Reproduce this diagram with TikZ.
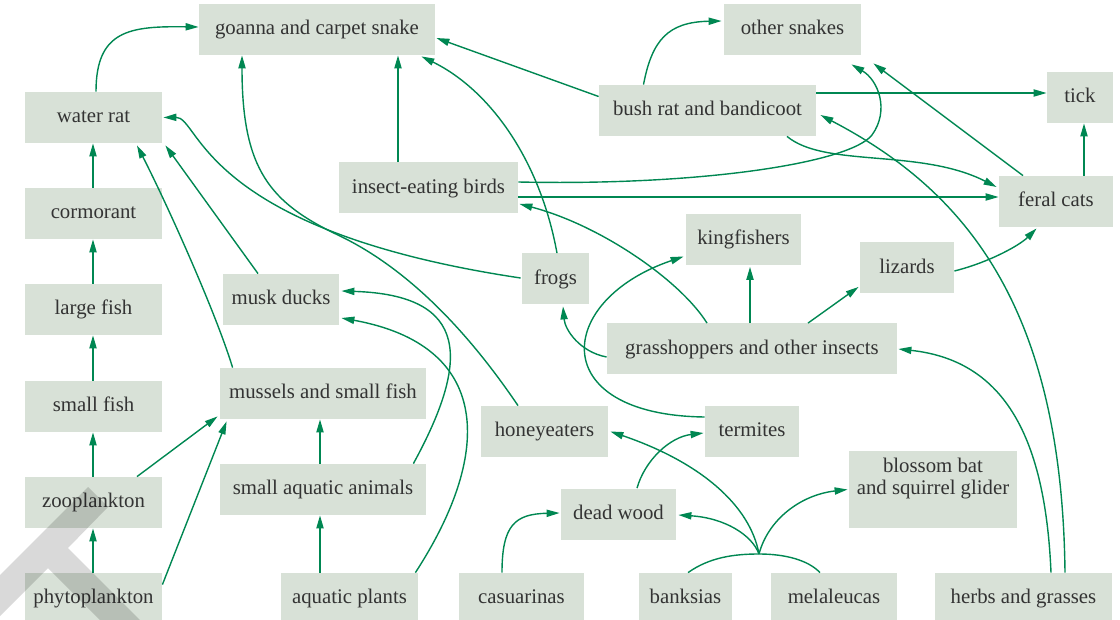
\documentclass[tikz,border=0pt]{standalone}
\usepackage{fontspec}
\setmainfont{Liberation Serif}
\usetikzlibrary{arrows.meta}
\definecolor{boxfill}{HTML}{D8E1D7}
\definecolor{linkgreen}{HTML}{008752}
\definecolor{labelgrey}{HTML}{333333}
\tikzset{
  org/.style  = {fill=boxfill, rectangle, inner sep=0pt, minimum height=25.5pt,
                 text=labelgrey, font=\fontsize{10.4}{11}\selectfont,
                 text height=7.3pt, text depth=2pt, align=center},
  ln/.style   = {draw=linkgreen, line width=0.7pt},
  ar/.style   = {ln, -{Triangle[length=6.5pt, width=3.6pt]}, linkgreen},
  logo/.style = {fill=black, opacity=0.15},
}
\begin{document}
\begin{tikzpicture}[x=0.5pt, y=-0.5pt]
  \useasboundingbox (0,0) rectangle (1120,620);
  % nodes, top to bottom
  \node[org, minimum width=118pt]   (goanna)        at (317, 29.5)    {goanna and carpet snake};
  \node[org, minimum width=68.5pt]  (othersnakes)   at (792.5, 29.5)  {other snakes};
  \node[org, minimum width=68.5pt]  (waterrat)      at (93.5, 117.5)  {water rat};
  \node[org, minimum width=108.5pt] (bushrat)       at (707.5, 110.5) {bush rat and bandicoot};
  \node[org, minimum width=33pt]    (tick)          at (1080, 97.5)   {tick};
  \node[org, minimum width=89.5pt]  (birds)         at (428.5, 188)   {insect-eating birds};
  \node[org, minimum width=68.5pt]  (cormorant)     at (93.5, 213.5)  {cormorant};
  \node[org, minimum width=57pt]    (feralcats)     at (1056, 201.5)  {feral cats};
  \node[org, minimum width=57.5pt]  (kingfishers)   at (743.5, 239.5) {kingfishers};
  \node[org, minimum width=33.5pt]  (frogs)         at (555.5, 279)   {frogs};
  \node[org, minimum width=47pt]    (lizards)       at (907, 268)     {lizards};
  \node[org, minimum width=58pt]    (muskducks)     at (281, 299.5)   {musk ducks};
  \node[org, minimum width=68.5pt]  (largefish)     at (93.5, 309.5)  {large fish};
  \node[org, minimum width=145pt]   (grasshoppers)  at (752, 349)     {grasshoppers and other insects};
  \node[org, minimum width=103pt]   (mussels)       at (323, 393.5)   {mussels and small fish};
  \node[org, minimum width=68.5pt]  (smallfish)     at (93.5, 406.5)  {small fish};
  \node[org, minimum width=63.5pt]  (honeyeaters)   at (544.5, 431.5) {honeyeaters};
  \node[org, minimum width=47pt]    (termites)      at (752, 431.5)   {termites};
  \node[org, minimum width=84pt, minimum height=38.5pt]
                                    (blossom)       at (933, 489.5)   {blossom bat\\and squirrel glider};
  \node[org, minimum width=103pt]   (smallaquatic)  at (323, 489.5)   {small aquatic animals};
  \node[org, minimum width=68.5pt]  (zooplankton)   at (93.5, 502.5)  {zooplankton};
  \node[org, minimum width=57.5pt]  (deadwood)      at (618.5, 514)   {dead wood};
  \node[org, minimum width=68.5pt]  (phytoplankton) at (93.5, 598.5)  {phytoplankton};
  \node[org, minimum width=68.5pt]  (aquaticplants) at (349.5, 598.5) {aquatic plants};
  \node[org, minimum width=62.5pt]  (casuarinas)    at (521.5, 598.5) {casuarinas};
  \node[org, minimum width=46.5pt]  (banksias)      at (685.5, 598.5) {banksias};
  \node[org, minimum width=63pt]    (melaleucas)    at (834, 598.5)   {melaleucas};
  \node[org, minimum width=88.5pt]  (herbs)         at (1023.5, 598.5){herbs and grasses};
  % water chain on the left
  \foreach \a/\b in {phytoplankton/zooplankton, zooplankton/smallfish, smallfish/largefish,
                     largefish/cormorant, cormorant/waterrat}
    \draw[ar] ([shift={(-0.5,0)}]\a.north) -- ([shift={(-0.5,0)}]\b.south);
  \draw[ar] ([shift={(2.5,0)}]waterrat.north) .. controls (96,30) and (130,26) .. ([shift={(0,-2.5)}]goanna.west);
  \draw[ar] ([shift={(-1,-1)}]frogs.west) .. controls (200,230) and (200,117) .. ([shift={(1,0)}]waterrat.east);
  \draw[ar] ([shift={(-23,0)}]muskducks.north) -- ([shift={(3,2)}]waterrat.south east);
  \draw[ar] ([shift={(13,0)}]mussels.north west) .. controls (215,310) and (165,200) .. ([shift={(43.5,2)}]waterrat.south);
  \draw[ar] ([shift={(43.5,0)}]zooplankton.north) -- ([shift={(-2,-3)}]mussels.south west);
  \draw[ar] ([shift={(0,12)}]phytoplankton.north east) -- ([shift={(7,2)}]mussels.south west);
  \draw[ar] ([shift={(-3,0)}]smallaquatic.north) -- ([shift={(-3,0)}]mussels.south);
  \draw[ar] ([shift={(-29.5,0)}]aquaticplants.north) -- ([shift={(-3,0)}]smallaquatic.south);
  \draw[ar] ([shift={(-13,0)}]smallaquatic.north east) .. controls (470,360) and (470,295) .. ([shift={(2,-8.5)}]muskducks.east);
  \draw[ar] ([shift={(-3,0)}]aquaticplants.north east) .. controls (495,450) and (490,345) .. ([shift={(2,18.5)}]muskducks.east);
  % into goanna and carpet snake
  \draw[ar] ([shift={(0,-14)}]bushrat.west) -- ([shift={(1,8.5)}]goanna.east);
  \draw[ar] ([shift={(-30.5,0)}]birds.north) -- ([shift={(81,0)}]goanna.south);
  \draw[ar] ([shift={(1.5,0)}]frogs.north) .. controls (540,160) and (490,90) .. ([shift={(-14,1)}]goanna.south east);
  \draw[ar] ([shift={(-26.5,0)}]honeyeaters.north) .. controls (460,320) and (400,265) .. (340,236)
            .. controls (270,203) and (242,170) .. ([shift={(-75,0)}]goanna.south);
  % other snakes, tick, feral cats
  \draw[ar] ([shift={(-64,0)}]bushrat.north) .. controls (652,40) and (668,22) .. ([shift={(-2,-8.5)}]othersnakes.west);
  \draw[ar] ([shift={(0,-6)}]birds.east) .. controls (700,186) and (850,163) .. (872,135)
            .. controls (890,110) and (878,80) .. ([shift={(-10,9)}]othersnakes.south east);
  \draw[ar] ([shift={(-33,0)}]feralcats.north) -- ([shift={(12,8)}]othersnakes.south east);
  \draw[ar] ([shift={(0,-17.5)}]bushrat.east) -- ([shift={(0,-4.5)}]tick.west);
  \draw[ar] ([shift={(28,0)}]feralcats.north) -- ([shift={(4,0)}]tick.south);
  \draw[ar] ([shift={(79.5,0)}]bushrat.south) .. controls (825,168) and (920,148) .. ([shift={(-2,-14.5)}]feralcats.west);
  \draw[ar] ([shift={(0,9)}]birds.east) -- ([shift={(0,-4.5)}]feralcats.west);
  \draw[ar] ([shift={(41.5,0)}]herbs.north) .. controls (1062,300) and (960,188) .. ([shift={(4,4.5)}]bushrat.east);
  \draw[ar] ([shift={(0,3)}]lizards.east) .. controls (990,262) and (1020,245) .. ([shift={(38,1)}]feralcats.south west);
  % insects
  \draw[ar] ([shift={(-45,0)}]grasshoppers.north) .. controls (680,280) and (600,225) .. ([shift={(1,-10)}]birds.south east);
  \draw[ar] ([shift={(0,8)}]grasshoppers.west) .. controls (580,352) and (565,330) .. ([shift={(7.5,1.5)}]frogs.south);
  \draw[ar] ([shift={(-2,0)}]grasshoppers.north) -- ([shift={(6.5,1.5)}]kingfishers.south);
  \draw[ar] ([shift={(56,0)}]grasshoppers.north) -- ([shift={(-1,-7)}]lizards.south west);
  \draw[ar] ([shift={(0,-14.5)}]termites.west) .. controls (545,415) and (555,300) .. ([shift={(-2,17)}]kingfishers.west);
  \draw[ar] ([shift={(27.5,0)}]herbs.north) .. controls (1045,430) and (1000,360) .. ([shift={(1,0)}]grasshoppers.east);
  \draw[ar] ([shift={(18.5,0)}]deadwood.north) .. controls (645,460) and (670,437) .. ([shift={(-1,1.5)}]termites.west);
  \draw[ar] ([shift={(-19.5,0)}]casuarinas.north) .. controls (502,525) and (515,514) .. ([shift={(-1,-1)}]deadwood.west);
  % banksias and melaleucas together
  \coordinate (fork) at (759,554);
  \draw[ln] ([shift={(2.5,0)}]banksias.north) .. controls (710,557) and (735,554) .. (fork)
            .. controls (785,554) and (808,560) .. ([shift={(-14,0)}]melaleucas.north);
  \draw[ar] (fork) .. controls (750,505) and (700,462) .. ([shift={(2,0)}]honeyeaters.east);
  \draw[ar] (fork) .. controls (752,535) and (725,518) .. ([shift={(2,1)}]deadwood.east);
  \draw[ar] (fork) .. controls (768,520) and (800,495) .. ([shift={(-1,0)}]blossom.west);
  % grey mark, bottom left
  \fill[logo] (0,575) -- (88,487) -- (108,507) -- (68,548) -- (140,620) -- (100,620) -- (48,568) -- (0,616) -- cycle;
\end{tikzpicture}
\end{document}
